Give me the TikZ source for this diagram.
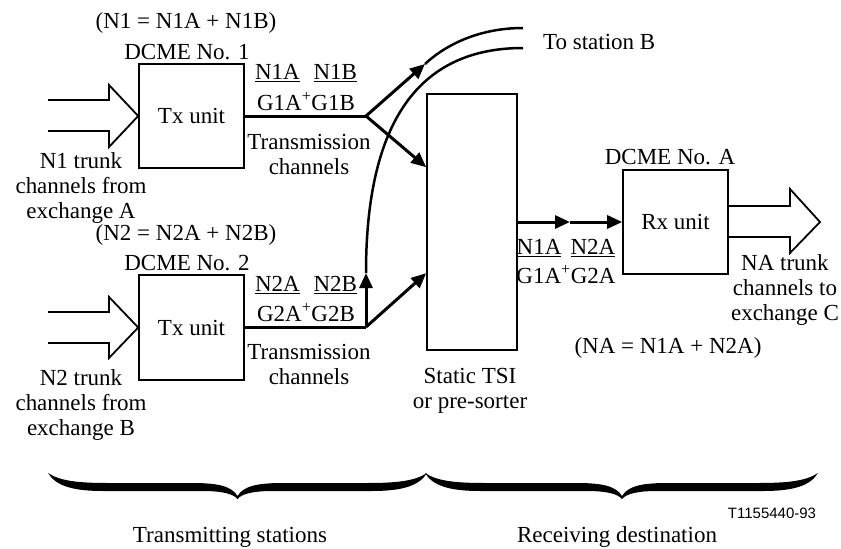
\documentclass[tikz,border=0pt]{standalone}
\usepackage{fontspec}
\setmainfont{Liberation Serif}
\newfontfamily\arialfont{Liberation Sans}
\usetikzlibrary{arrows.meta}
\newcommand\tbrace[3]{%
 \fill (#1,473) .. controls ({#1+8},486) and ({#1+25},491) .. ({#1+55},491) -- ({#2-35},491)
  .. controls ({#2-15},491) and ({#2-4},494) .. (#2,499)
  .. controls ({#2+4},494) and ({#2+15},491) .. ({#2+35},491) -- ({#3-55},491)
  .. controls ({#3-25},491) and ({#3-8},486) .. (#3,473)
  .. controls ({#3-12},481) and ({#3-30},483) .. ({#3-60},483) -- ({#2+45},483)
  .. controls ({#2+20},483) and ({#2+6},486) .. (#2,496)
  .. controls ({#2-6},486) and ({#2-20},483) .. ({#2-45},483) -- ({#1+60},483)
  .. controls ({#1+30},483) and ({#1+12},481) .. (#1,473) -- cycle;}
\begin{document}
\begin{tikzpicture}[x=1pt,y=-1pt,
  txt/.style={font=\fontsize{23}{25}\selectfont, inner sep=0pt, align=center},
  unitbox/.style={draw, line width=1.6pt, inner sep=0pt, minimum width=105pt, minimum height=104pt, font=\fontsize{23}{25}\selectfont},
  conn/.style={line width=3pt},
  arr/.style={conn, -{Triangle[length=15pt,width=13pt]}},
  curveline/.style={line width=2.5pt},
  hollow/.style={line width=1.8pt, line join=miter},
]
\useasboundingbox (0,0) rectangle (841,549);

% boxes
\node[unitbox] (tx1) at (191.5,116) {Tx unit};
\node[unitbox, minimum height=105pt] (tx2) at (191.5,327.5) {Tx unit};
\node[unitbox, minimum width=90pt, minimum height=256pt] (tsi) at (472,222) {};
\node[unitbox] (rx) at (675.5,222) {Rx unit};

% texts
\node[txt] (eq1) at (186,23) {(N1 = N1A + N1B)};
\node[txt] (dcme1) at (187,52) {DCME No. 1};
\node[txt] (lab1a) at (306,73) {\underline{N1A}\hspace{0.6em}\underline{N1B}};
\node[txt] (lab1b) at (306,102) {G1A\textsuperscript{+}G1B};
\node[txt] (tr1) at (309,154) {Transmission\\channels};
\node[txt] (in1) at (81,188) {N1 trunk\\channels from\\exchange A};

\node[txt] (eq2) at (186,235) {(N2 = N2A + N2B)};
\node[txt] (dcme2) at (187,263) {DCME No. 2};
\node[txt] (lab2a) at (306,285) {\underline{N2A}\hspace{0.6em}\underline{N2B}};
\node[txt] (lab2b) at (306,313) {G2A\textsuperscript{+}G2B};
\node[txt] (tr2) at (309,364) {Transmission\\channels};
\node[txt] (in2) at (81,405) {N2 trunk\\channels from\\exchange B};

\node[txt] (tsilab) at (470,391) {Static TSI\\or pre-sorter};
\node[txt] (dcmeA) at (670,157) {DCME No. A};
\node[txt] (labA1) at (566,248) {\underline{N1A}\hspace{0.4em}\underline{N2A}};
\node[txt] (labA2) at (566,275) {G1A\textsuperscript{+}G2A};
\node[txt] (eqA) at (668,348) {(NA = N1A + N2A)};
\node[txt] (outlab) at (785,290) {NA trunk\\channels to\\exchange C};
\node[txt, anchor=west] (tob) at (543,42) {To station B};
\node[txt] (trs) at (230,537) {Transmitting stations};
\node[txt] (rcv) at (617,537) {Receiving destination};
\node[inner sep=0pt, font=\arialfont\fontsize{15}{17}\selectfont] (code) at (772,513) {T1155440-93};

% coordinates
\coordinate (j1) at (366,116);
\coordinate (c1) at (425,64);
\coordinate (s1) at (523,28);
\coordinate (j2) at (366,327);
\coordinate (c2) at (366,273);
\coordinate (s2) at (523,48);
\path (tsi.north west) ++(0,74) coordinate (t1);
\path (tsi.north west) ++(0,180) coordinate (t2);
\coordinate (m1) at (570,222);

% hollow arrows
\draw[hollow] (48,100) -| (109,85) -- (tx1.west) -- (109,147) |- (48,131);
\draw[hollow] (48,312) -| (109,297) -- (tx2.west) -- (109,358) |- (48,343);
\draw[hollow] (rx.east |- 0,206) -| (790,189) -- (820,222) -- (790,253) |- (rx.east |- 0,237);

% connectors
\draw[conn] (tx1.east) -- (j1);
\draw[arr] (j1) -- (c1);
\draw[arr] (j1) -- (t1);
\draw[curveline] (c1) .. controls (442,48) and (475,28) .. (s1);
\draw[conn] (tx2.east |- j2) -- (j2);
\draw[arr] (j2) -- (c2);
\draw[arr] (j2) -- (t2);
\draw[curveline] (c2) .. controls (366,120) and (420,48) .. (s2);
\draw[arr] (tsi.east) -- (m1);
\draw[arr] (m1) -- (rx.west);

% braces
\tbrace{48}{237.5}{427}
\tbrace{425}{622}{818}
\end{tikzpicture}
\end{document}
